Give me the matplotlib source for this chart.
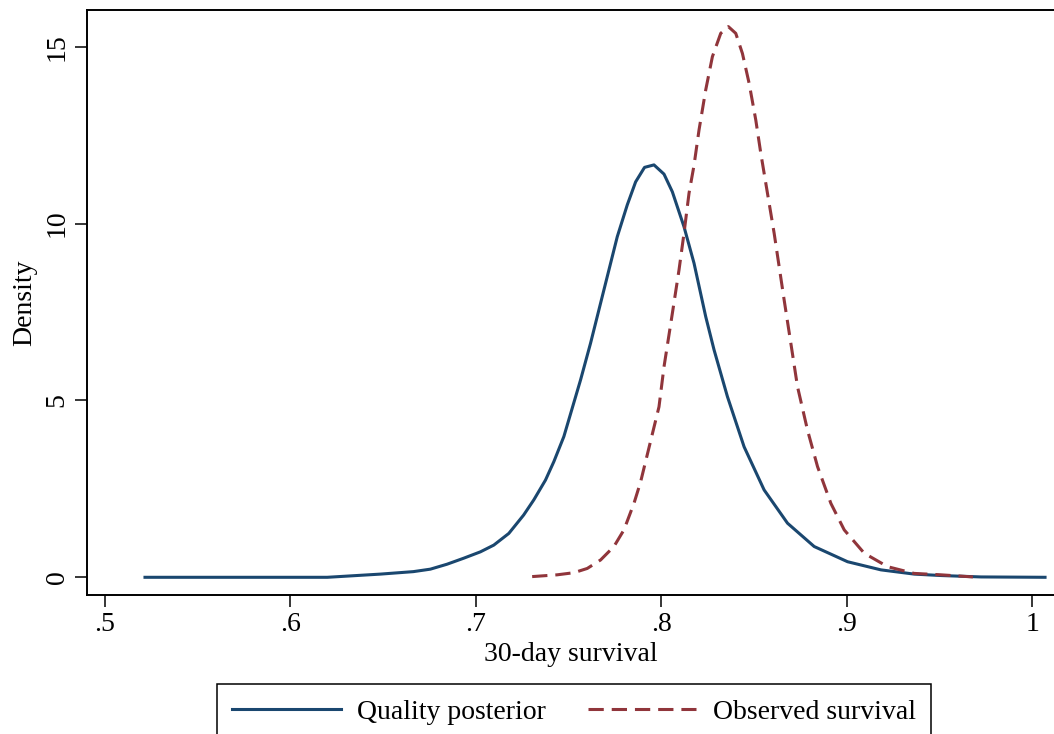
import matplotlib
matplotlib.use("Agg")
import matplotlib.pyplot as plt

# 30-day survival grid and densities
quality_x = [0.5216, 0.6199, 0.6485, 0.6663, 0.6755, 0.6845, 0.6935, 0.7025, 0.7097,
             0.7178, 0.7258, 0.7313, 0.7376, 0.7421, 0.7475, 0.7520, 0.7565, 0.7619,
             0.7673, 0.7718, 0.7763, 0.7817, 0.7862, 0.7910, 0.7961, 0.8015, 0.8060,
             0.8123, 0.8177, 0.8240, 0.8285, 0.8357, 0.8447, 0.8555, 0.8681, 0.8825,
             0.9005, 0.9185, 0.9365, 0.9509, 0.9725, 1.0070]
quality_y = [0.0, 0.0, 0.09, 0.16, 0.23, 0.37, 0.54, 0.72, 0.91,
             1.24, 1.76, 2.19, 2.75, 3.27, 3.98, 4.78, 5.58, 6.62,
             7.75, 8.69, 9.63, 10.53, 11.18, 11.59, 11.66, 11.40, 10.90,
             9.91, 8.88, 7.37, 6.43, 5.11, 3.69, 2.47, 1.53, 0.87,
             0.44, 0.21, 0.09, 0.05, 0.01, 0.0]

observed_x = [0.7304, 0.7439, 0.7529, 0.7601, 0.7673, 0.7745, 0.7799, 0.7853, 0.7889,
              0.7988, 0.8015, 0.8060, 0.8096, 0.8123, 0.8150, 0.8177, 0.8204, 0.8240,
              0.8276, 0.8321, 0.8362, 0.8402, 0.8438, 0.8474, 0.8510, 0.8537, 0.8573,
              0.8609, 0.8663, 0.8699, 0.8735, 0.8789, 0.8843, 0.8915, 0.8987, 0.9095,
              0.9221, 0.9364, 0.9509, 0.9681]
observed_y = [0.02, 0.07, 0.13, 0.25, 0.49, 0.87, 1.34, 2.09, 2.70,
              4.82, 5.95, 7.46, 8.69, 9.73, 10.86, 11.65, 12.65, 13.78,
              14.72, 15.38, 15.57, 15.38, 14.81, 13.97, 12.93, 11.99, 10.86,
              9.73, 7.84, 6.62, 5.39, 4.16, 3.13, 2.09, 1.34, 0.68,
              0.30, 0.11, 0.07, 0.01]

x_ticks = [0.5, 0.6, 0.7, 0.8, 0.9, 1.0]
x_tick_labels = [".5", ".6", ".7", ".8", ".9", "1"]
y_ticks = [0, 5, 10, 15]

plt.rcParams['font.family'] = ['Liberation Serif', 'DejaVu Serif']
plt.rcParams['font.size'] = 20

fig = plt.figure(figsize=(10.54, 7.34), dpi=100)
ax = fig.add_axes([0.0825, 0.1894, 0.9185, 0.797])

ax.plot(quality_x, quality_y, color='#1a476f', lw=2.2, label='Quality posterior')
ax.plot(observed_x, observed_y, color='#90353b', lw=2.2, dashes=(5, 2.6),
        label='Observed survival')

ax.set_xlim(0.4903, 1.0124)
ax.set_ylim(-0.50, 16.04)
ax.set_xticks(x_ticks)
ax.set_xticklabels(x_tick_labels)
ax.set_yticks(y_ticks)
for lab in ax.get_yticklabels():
    lab.set_rotation(90)
    lab.set_va('center')
ax.tick_params(direction='out', length=8.5, width=1.1, pad=4)

ax.spines['right'].set_visible(False)
for s in ['left', 'bottom', 'top']:
    ax.spines[s].set_linewidth(1.4)

ax.set_xlabel('30-day survival', labelpad=3)
ax.set_ylabel('Density', labelpad=5)

fig.legend(loc='upper center', bbox_to_anchor=(574 / 1054, 1 - 684 / 734), ncol=2,
           frameon=True, fancybox=False, edgecolor='black', framealpha=1,
           handlelength=3.9, handletextpad=0.6, columnspacing=1.5, borderpad=0.55,
           borderaxespad=0)
fig.legends[0].get_frame().set_linewidth(1.1)

fig.savefig('out.png', dpi=100)
